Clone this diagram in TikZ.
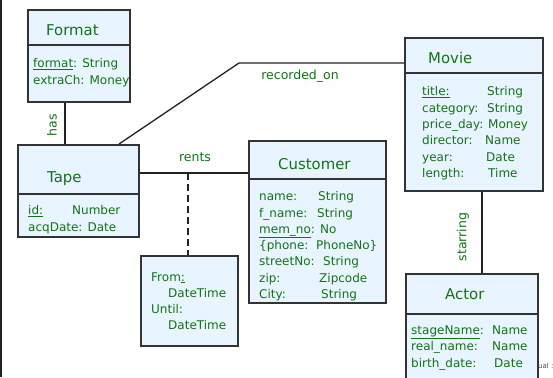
\documentclass[tikz,border=0pt]{standalone}
\usepackage{fontspec}
\setmainfont{DejaVu Sans}
\definecolor{boxfill}{HTML}{E8F4FF}
\definecolor{boxline}{HTML}{333333}
\definecolor{lineclr}{HTML}{222222}
\definecolor{txt}{HTML}{137313}
\begin{document}
\begin{tikzpicture}[x=1pt,y=-1pt,
  box/.style={draw=boxline, line width=1.6pt, fill=boxfill, inner sep=0pt, anchor=north west},
  divider/.style={draw=boxline, line width=1.6pt},
  conn/.style={draw=lineclr, line width=1.3pt},
  ttl/.style={text=txt, font=\fontsize{14.9}{17}\selectfont, anchor=mid west, inner sep=0pt, yshift=-3.5pt},
  att/.style={text=txt, font=\fontsize{12}{14}\selectfont, anchor=mid west, inner sep=0pt, yshift=-2.5pt},
  lbl/.style={text=txt, font=\fontsize{12.5}{14}\selectfont, inner sep=0pt},
]
\clip (0,0) rectangle (553,377);
\fill[white] (0,0) rectangle (553,377);
\draw[lineclr, line width=1.5pt] (0.75,0) -- (0.75,377);

% footer fragment (mostly hidden)
\node[anchor=mid west, inner sep=0pt, text=black!70, font=\fontsize{7}{8}\selectfont] (foot) at (538,366) {ual :};

% boxes
\node[box, minimum width=102pt, minimum height=92pt] (format) at (27,9) {};
\draw[divider] (format.north west) ++(0,36) -- ++(102,0);
\node[box, minimum width=121pt, minimum height=92pt] (tape) at (17,144) {};
\draw[divider] (tape.north west) ++(0,50) -- ++(121,0);
\node[box, minimum width=137pt, minimum height=162pt] (customer) at (248,140) {};
\draw[divider] (customer.north west) ++(0,39) -- ++(137,0);
\node[box, minimum width=97pt, minimum height=90pt] (rental) at (140,255) {};
\node[box, minimum width=138pt, minimum height=153pt] (movie) at (404,37) {};
\draw[divider] (movie.north west) ++(0,36) -- ++(138,0);
\node[box, minimum width=132pt, minimum height=130pt] (actor) at (405,273) {};
\draw[divider] (actor.north west) ++(0,41) -- ++(132,0);

% connectors
\coordinate (hasx) at (65,0);
\draw[conn] (format.south -| hasx) -- (tape.north -| hasx);
\coordinate (recx) at (119,0);
\coordinate (recbend) at (239,63);
\draw[conn] (tape.north -| recx) -- (recbend) -- (movie.west |- recbend);
\coordinate (rentsy) at (0,173);
\draw[conn] (tape.east |- rentsy) -- (customer.west |- rentsy);
\coordinate (rentmid) at (188,173);
\draw[conn, dash pattern=on 7pt off 4pt] (rentmid) -- (rental.north -| rentmid);
\coordinate (starx) at (482,0);
\draw[conn] (movie.south -| starx) -- (actor.north -| starx);

% connector labels
\node[lbl, rotate=90] (lhas) at (52,125) {has};
\node[lbl] (lrec) at (300,76) {recorded\_on};
\node[lbl] (lrents) at (195,157) {rents};
\node[lbl, rotate=90] (lstar) at (463,237) {starring};

% titles
\node[ttl] (tformat) at (46,29) {Format};
\node[ttl] (ttape) at (47,176) {Tape};
\node[ttl] (tcust) at (278,163) {Customer};
\node[ttl] (tmovie) at (428,57) {Movie};
\node[ttl] (tactor) at (445,293) {Actor};

% Format attributes
\node[att] (fa1) at (33,62) {\underline{format}: String};
\node[att] (fa2) at (33,79) {extraCh: Money};

% Tape attributes
\node[att] (ta1) at (28,209) {\underline{id:}};
\node[att] (ta1t) at (72,209) {Number};
\node[att] (ta2) at (28,226) {acqDate: Date};

% Customer attributes
\node[att] (ca1) at (259,195) {name:};
\node[att] (ca1t) at (318,195) {String};
\node[att] (ca2) at (259,212) {f\_name:};
\node[att] (ca2t) at (317,212) {String};
\node[att] (ca3) at (259,228) {\underline{mem\_no}: No};
\node[att] (ca4) at (259,244) {\{phone:};
\node[att] (ca4t) at (316,244) {PhoneNo\}};
\node[att] (ca5) at (259,260) {streetNo:};
\node[att] (ca5t) at (323,260) {String};
\node[att] (ca6) at (259,277) {zip:};
\node[att] (ca6t) at (319,277) {Zipcode};
\node[att] (ca7) at (259,293) {City:};
\node[att] (ca7t) at (321,293) {String};

% Rental attributes
\node[att] (ra1) at (151,276) {From\underline{:}};
\node[att] (ra2) at (168,292) {DateTime};
\node[att] (ra3) at (151,308) {Until:};
\node[att] (ra4) at (168,324) {DateTime};

% Movie attributes
\node[att] (ma1) at (422,90) {\underline{title:}};
\node[att] (ma1t) at (487,90) {String};
\node[att] (ma2) at (422,107) {category:};
\node[att] (ma2t) at (487,107) {String};
\node[att] (ma3) at (422,123) {price\_day:};
\node[att] (ma3t) at (488,123) {Money};
\node[att] (ma4) at (422,139) {director:};
\node[att] (ma4t) at (485,139) {Name};
\node[att] (ma5) at (422,156) {year:};
\node[att] (ma5t) at (486,156) {Date};
\node[att] (ma6) at (422,172) {length:};
\node[att] (ma6t) at (488,172) {Time};

% Actor attributes
\node[att] (aa1) at (411,329) {\underline{stageName}:};
\node[att] (aa1t) at (492,329) {Name};
\node[att] (aa2) at (411,345) {real\_name:};
\node[att] (aa2t) at (492,345) {Name};
\node[att] (aa3) at (411,362) {birth\_date:};
\node[att] (aa3t) at (494,362) {Date};
\end{tikzpicture}
\end{document}
